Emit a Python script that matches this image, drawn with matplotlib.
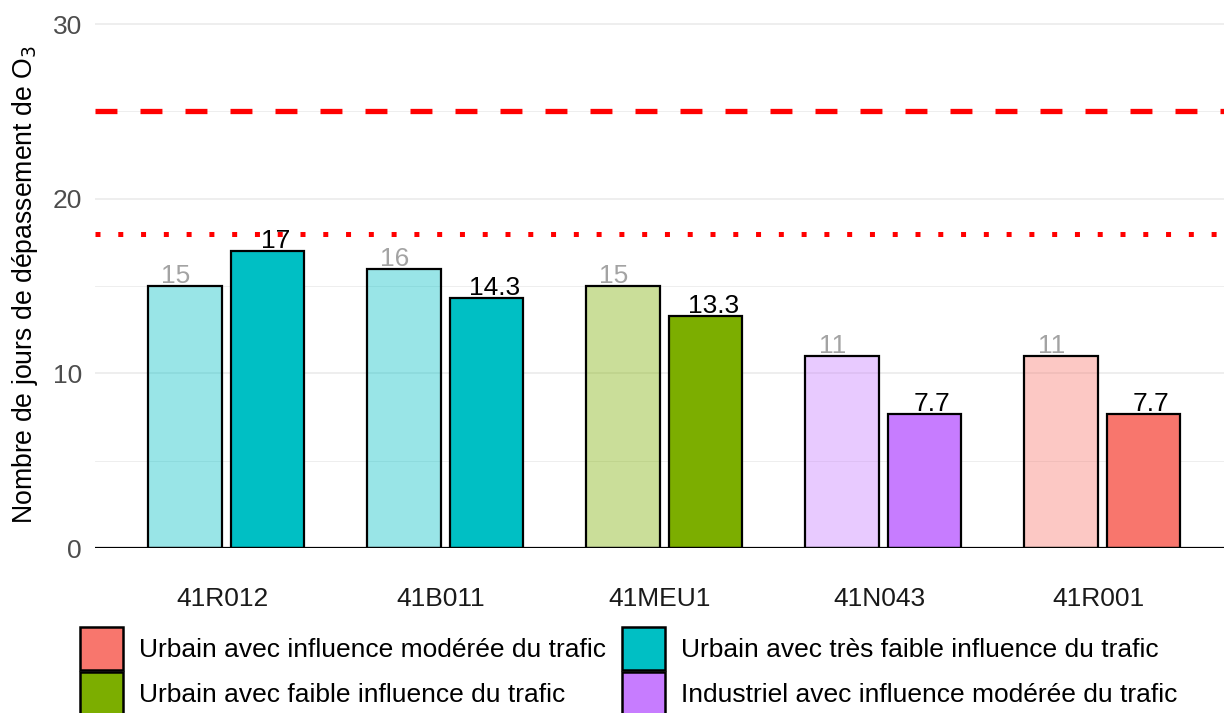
import matplotlib
matplotlib.use("Agg")
import matplotlib.pyplot as plt
from matplotlib.colors import to_rgba
from matplotlib.patches import Patch
import numpy as np

plt.rcParams["font.family"] = ["Liberation Sans", "DejaVu Sans"]
plt.rcParams["lines.scale_dashes"] = False

stations = ["41R012", "41B011", "41MEU1", "41N043", "41R001"]
prev_vals = [15, 16, 15, 11, 11]
curr_vals = [17, 14.3, 13.3, 7.7, 7.7]
prev_labels = ["15", "16", "15", "11", "11"]
curr_labels = ["17", "14.3", "13.3", "7.7", "7.7"]
station_class = [
    "Urbain avec très faible influence du trafic",
    "Urbain avec très faible influence du trafic",
    "Urbain avec faible influence du trafic",
    "Industriel avec influence modérée du trafic",
    "Urbain avec influence modérée du trafic",
]
class_colors = {
    "Urbain avec influence modérée du trafic": "#F8766D",
    "Urbain avec très faible influence du trafic": "#00BFC4",
    "Urbain avec faible influence du trafic": "#7CAE00",
    "Industriel avec influence modérée du trafic": "#C77CFF",
}
legend_order = [
    "Urbain avec influence modérée du trafic",
    "Urbain avec faible influence du trafic",
    "Urbain avec très faible influence du trafic",
    "Industriel avec influence modérée du trafic",
]
limit_target = 25
limit_objective = 18

W, H = 1224, 713
FS = 19
fig = plt.figure(figsize=(W / 100, H / 100), dpi=100)
px_per_unit = (548 - 24) / 30
ymax = 31
ax = fig.add_axes([95 / W, 1 - 548 / H, (W - 95) / W, ymax * px_per_unit / H])

x = np.arange(len(stations))
cols = [class_colors[c] for c in station_class]

# minor/major grid
for v in [5, 15, 25]:
    ax.axhline(v, color="#EBEBEB", lw=0.6, zorder=0)
for v in [10, 20, 30]:
    ax.axhline(v, color="#EBEBEB", lw=1.2, zorder=0)

ax.bar(x - 0.338, prev_vals, width=0.338, align="edge",
       color=[to_rgba(c, 0.4) for c in cols], edgecolor="black", linewidth=1.6, zorder=2)
ax.bar(x + 0.04, curr_vals, width=0.334, align="edge",
       color=cols, edgecolor="black", linewidth=1.6, zorder=2)

for xi, v, lab in zip(x, prev_vals, prev_labels):
    ax.annotate(lab, (xi - 0.213, v), xytext=(0, 2), textcoords="offset points",
                ha="center", va="baseline", fontsize=FS, color="#A3A3A3", zorder=3)
for xi, v, lab in zip(x, curr_vals, curr_labels):
    ax.annotate(lab, (xi + 0.243, v), xytext=(0, 2), textcoords="offset points",
                ha="center", va="baseline", fontsize=FS, color="black", zorder=3)

ax.axhline(limit_target, color="#FF0000", lw=3.8, dashes=(15.8, 16.6),
           solid_capstyle="butt", dash_capstyle="butt", zorder=1)
ax.axhline(limit_objective, color="#FF0000", lw=3.6, dashes=(3.6, 12.8),
           solid_capstyle="butt", dash_capstyle="butt", zorder=1)
ax.axhline(0, color="black", lw=1.6, zorder=4)

ax.set_xlim(-0.58, 4.575)
ax.set_ylim(0, ymax)
ax.set_yticks([0, 10, 20, 30])
ax.set_xticks(x)
ax.set_xticklabels(stations)
ax.tick_params(axis="x", length=0, pad=28, labelsize=FS, labelcolor="#1A1A1A")
ax.tick_params(axis="y", length=0, pad=9.5, labelsize=FS, labelcolor="#4D4D4D")
for s in ax.spines.values():
    s.set_visible(False)
ax.set_ylabel("Nombre de jours de dépassement de O$_3$", fontsize=19.2, color="black")
ax.yaxis.set_label_coords(-(95 - 40) / (W - 95), (548 - 285) / px_per_unit / ymax)

handles = [Patch(facecolor=class_colors[c], edgecolor="black", linewidth=1.8) for c in legend_order]
fig.legend(handles, legend_order, loc="upper left", bbox_to_anchor=(80 / W, 1 - 627 / H),
           ncol=2, frameon=False, fontsize=FS, handlelength=1.63, handleheight=2.13,
           labelspacing=0.08, handletextpad=0.6, columnspacing=0.6, borderpad=0, borderaxespad=0)

fig.savefig("out.png", dpi=100)
